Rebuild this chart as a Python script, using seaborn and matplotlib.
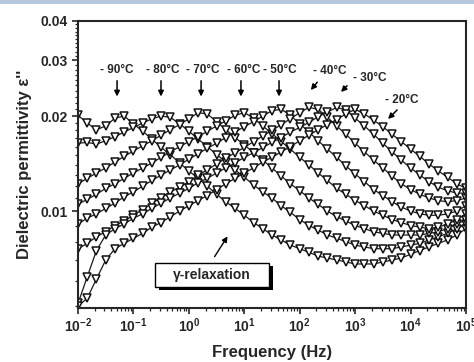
import numpy as np
import pandas as pd
import matplotlib
matplotlib.use("Agg")
import matplotlib.pyplot as plt
import matplotlib.ticker as mticker
from matplotlib.patches import Rectangle
import seaborn as sns

# measurement frequencies (Hz), 6 per decade
freq = [0.01, 0.0147, 0.0215, 0.0316, 0.0464, 0.0681,
        0.1, 0.147, 0.215, 0.316, 0.464, 0.681,
        1.0, 1.47, 2.15, 3.16, 4.64, 6.81,
        10.0, 14.7, 21.5, 31.6, 46.4, 68.1,
        100.0, 147.0, 215.0, 316.0, 464.0, 681.0,
        1000.0, 1470.0, 2150.0, 3160.0, 4640.0, 6810.0,
        10000.0, 14700.0, 21500.0, 31600.0, 46400.0, 68100.0,
        100000.0]

temps = ["-90", "-80", "-70", "-60", "-50", "-40", "-30", "-20"]

eps_m90 = [0.0201, 0.0190, 0.0181, 0.0186, 0.0197, 0.0200, 0.0189, 0.0179, 0.0169, 0.0159,
           0.0151, 0.0142, 0.0134, 0.0127, 0.0120, 0.0113, 0.0107, 0.0102, 0.0097, 0.0092,
           0.0088, 0.0084, 0.0081, 0.0078, 0.0076, 0.0074, 0.0072, 0.0071, 0.0070, 0.0069,
           0.0068, 0.0068, 0.0068, 0.0069, 0.0070, 0.0071, 0.0073, 0.0075, 0.0077, 0.0079,
           0.0081, 0.0084, 0.0088]
eps_m80 = [0.0164, 0.0165, 0.0163, 0.0167, 0.0172, 0.0178, 0.0184, 0.0190, 0.0196, 0.0200,
           0.0198, 0.0189, 0.0179, 0.0169, 0.0160, 0.0151, 0.0143, 0.0135, 0.0128, 0.0121,
           0.0115, 0.0110, 0.0104, 0.0099, 0.0094, 0.0090, 0.0087, 0.0084, 0.0082, 0.0080,
           0.0078, 0.0077, 0.0076, 0.0076, 0.0076, 0.0077, 0.0078, 0.0079, 0.0081, 0.0083,
           0.0085, 0.0088, 0.0091]
eps_m70 = [0.0122, 0.0127, 0.0132, 0.0137, 0.0143, 0.0149, 0.0155, 0.0161, 0.0167, 0.0174,
           0.0181, 0.0188, 0.0196, 0.0205, 0.0203, 0.0192, 0.0181, 0.0171, 0.0162, 0.0153,
           0.0145, 0.0137, 0.0129, 0.0122, 0.0116, 0.0110, 0.0105, 0.0100, 0.0096, 0.0093,
           0.0090, 0.0088, 0.0086, 0.0085, 0.0084, 0.0084, 0.0084, 0.0084, 0.0085, 0.0086,
           0.0088, 0.0091, 0.0094]
eps_m60 = [0.0105, 0.0109, 0.0113, 0.0118, 0.0122, 0.0127, 0.0132, 0.0137, 0.0142, 0.0148,
           0.0154, 0.0160, 0.0166, 0.0172, 0.0179, 0.0186, 0.0193, 0.0201, 0.0205, 0.0197,
           0.0186, 0.0176, 0.0166, 0.0157, 0.0148, 0.0140, 0.0132, 0.0125, 0.0118, 0.0113,
           0.0108, 0.0104, 0.0100, 0.0097, 0.0094, 0.0092, 0.0090, 0.0089, 0.0088, 0.0089,
           0.0091, 0.0094, 0.0098]
eps_m50 = [0.0091, 0.0095, 0.0098, 0.0102, 0.0106, 0.0111, 0.0115, 0.0120, 0.0125, 0.0130,
           0.0135, 0.0140, 0.0146, 0.0152, 0.0158, 0.0164, 0.0171, 0.0178, 0.0185, 0.0192,
           0.0200, 0.0208, 0.0210, 0.0201, 0.0189, 0.0178, 0.0167, 0.0157, 0.0148, 0.0139,
           0.0131, 0.0124, 0.0117, 0.0112, 0.0107, 0.0103, 0.0100, 0.0098, 0.0097, 0.0097,
           0.0098, 0.0100, 0.0104]
eps_m40 = [0.0076, 0.0079, 0.0083, 0.0086, 0.0090, 0.0093, 0.0097, 0.0101, 0.0106, 0.0110,
           0.0115, 0.0119, 0.0124, 0.0130, 0.0135, 0.0141, 0.0147, 0.0153, 0.0159, 0.0166,
           0.0173, 0.0180, 0.0188, 0.0196, 0.0205, 0.0213, 0.0210, 0.0198, 0.0186, 0.0175,
           0.0164, 0.0154, 0.0145, 0.0137, 0.0129, 0.0122, 0.0117, 0.0113, 0.0110, 0.0108,
           0.0107, 0.0108, 0.0110]
eps_m30 = [0.0051, 0.0062, 0.0075, 0.0084, 0.0088, 0.0091, 0.0095, 0.0098, 0.0102, 0.0106,
           0.0110, 0.0114, 0.0118, 0.0123, 0.0127, 0.0132, 0.0137, 0.0142, 0.0148, 0.0153,
           0.0159, 0.0165, 0.0171, 0.0178, 0.0184, 0.0191, 0.0199, 0.0206, 0.0213, 0.0209,
           0.0197, 0.0186, 0.0175, 0.0164, 0.0154, 0.0145, 0.0137, 0.0130, 0.0124, 0.0119,
           0.0116, 0.0114, 0.0114]
eps_m20 = [0.0050, 0.0053, 0.0061, 0.0070, 0.0076, 0.0079, 0.0082, 0.0085, 0.0089, 0.0092,
           0.0096, 0.0100, 0.0104, 0.0108, 0.0112, 0.0117, 0.0122, 0.0127, 0.0132, 0.0137,
           0.0143, 0.0148, 0.0154, 0.0160, 0.0167, 0.0174, 0.0181, 0.0188, 0.0195, 0.0203,
           0.0210, 0.0203, 0.0194, 0.0185, 0.0175, 0.0166, 0.0157, 0.0149, 0.0141, 0.0134,
           0.0128, 0.0122, 0.0118]

curves = [eps_m90, eps_m80, eps_m70, eps_m60, eps_m50, eps_m40, eps_m30, eps_m20]
df = pd.concat([pd.DataFrame({"freq": freq, "eps": c, "T": t}) for t, c in zip(temps, curves)])

sns.set_style("ticks")
plt.rcParams["font.family"] = ["Liberation Sans", "DejaVu Sans"]
plt.rcParams["font.weight"] = "bold"
plt.rcParams["mathtext.fontset"] = "custom"
plt.rcParams["mathtext.rm"] = "Liberation Sans:bold"
plt.rcParams["mathtext.bf"] = "Liberation Sans:bold"
plt.rcParams["mathtext.default"] = "rm"

fig = plt.figure(figsize=(4.74, 3.62), dpi=100)
ax = fig.add_axes([0.1646, 0.149, 0.8186, 0.793])

sns.lineplot(data=df, x="freq", y="eps", hue="T", units="T", estimator=None,
             palette=["#1a1a1a"] * len(temps), marker="v", markersize=5.5,
             markerfacecolor="white", markeredgecolor="#111111", markeredgewidth=1.1,
             linewidth=0.9, legend=False, ax=ax, sort=True)

ax.set_xscale("log")
ax.set_yscale("log")
ax.set_xlim(0.01, 1e5)
ax.set_ylim(0.00493, 0.04)

ax.xaxis.set_major_locator(mticker.LogLocator(base=10, numticks=10))
ax.xaxis.set_major_formatter(mticker.FuncFormatter(lambda v, p: r"$10^{%d}$" % round(np.log10(v))))
ax.xaxis.set_minor_locator(mticker.LogLocator(base=10, subs=np.arange(2, 10), numticks=10))
ax.xaxis.set_minor_formatter(mticker.NullFormatter())

ax.yaxis.set_major_locator(mticker.FixedLocator([0.01, 0.02, 0.03, 0.04]))
ax.yaxis.set_major_formatter(mticker.FixedFormatter(["0.01", "0.02", "0.03", "0.04"]))
ax.yaxis.set_minor_locator(mticker.FixedLocator([v / 1000 for v in range(5, 40) if v not in (10, 20, 30)]))
ax.yaxis.set_minor_formatter(mticker.NullFormatter())

ax.tick_params(axis="both", which="major", direction="out", length=4, width=1.2, labelsize=10)
ax.tick_params(axis="x", which="major", pad=2)
ax.tick_params(axis="both", which="minor", direction="out", length=2.5, width=0.9)
for s in ax.spines.values():
    s.set_linewidth(1.5)

ax.set_xlabel("Frequency (Hz)", fontsize=12, fontweight="bold", labelpad=7)
ax.set_ylabel("Dielectric permittivity ε''", fontsize=12, fontweight="bold", labelpad=6)

# temperature labels with arrows
vert = [("- 90°C", 0.0506, 0.0506), ("- 80°C", 0.341, 0.314), ("- 70°C", 1.80, 1.66),
        ("- 60°C", 9.9, 8.7), ("- 50°C", 44.0, 42.3)]
for lab, xt, xa in vert:
    ax.text(xt, 0.0280, lab, ha="center", va="center", fontsize=8.5, fontweight="bold")
    ax.annotate("", xy=(xa, 0.0226), xytext=(xa, 0.0264),
                arrowprops=dict(arrowstyle="-|>", color="k", lw=1.1, mutation_scale=8))

diag = [("- 40°C", (352, 0.0278), (223, 0.0260), (147, 0.0238)),
        ("- 30°C", (1850, 0.0264), (775, 0.0253), (512, 0.0235)),
        ("- 20°C", (7000, 0.0225), (6200, 0.0212), (3600, 0.0193))]
for lab, tpos, tail, tip in diag:
    ax.text(tpos[0], tpos[1], lab, ha="center", va="center", fontsize=8.5, fontweight="bold")
    ax.annotate("", xy=tip, xytext=tail,
                arrowprops=dict(arrowstyle="-|>", color="k", lw=1.1, mutation_scale=8))

# gamma relaxation box with shadow
ax.add_patch(Rectangle((0.2075, 0.0612), 0.2938, 0.0836, transform=ax.transAxes,
                       facecolor="black", edgecolor="none", zorder=5))
ax.add_patch(Rectangle((0.1985, 0.0732), 0.2938, 0.0836, transform=ax.transAxes,
                       facecolor="white", edgecolor="black", linewidth=1.0, zorder=6))
ax.text(0.345, 0.115, "γ-relaxation", transform=ax.transAxes, ha="center", va="center",
        fontsize=10, fontweight="bold", zorder=7)
ax.annotate("", xy=(5.3, 0.00846), xytext=(2.73, 0.00705),
            arrowprops=dict(arrowstyle="-|>", color="k", lw=1.0, mutation_scale=8))

# light blue strip at top of the page
fig.add_artist(Rectangle((0, 1 - 4 / 362), 1, 4 / 362, transform=fig.transFigure,
                         facecolor="#b7c8dd", edgecolor="none"))

fig.savefig("out.png", dpi=100)
